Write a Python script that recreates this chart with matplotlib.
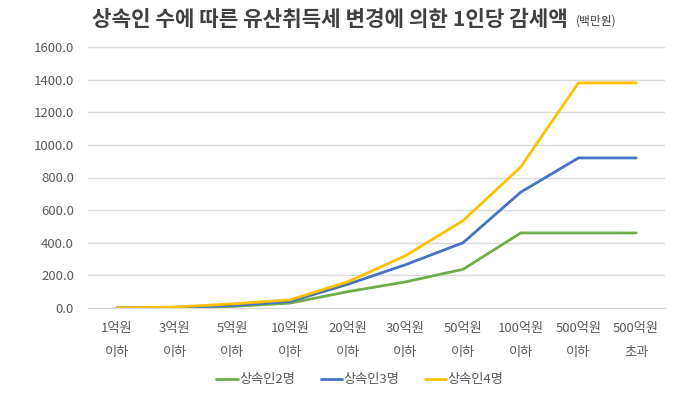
import matplotlib
matplotlib.use("Agg")
import matplotlib.pyplot as plt

plt.rcParams['font.family'] = ['Noto Sans CJK KR', 'DejaVu Sans']

categories = ["1억원\n이하", "3억원\n이하", "5억원\n이하", "10억원\n이하", "20억원\n이하",
              "30억원\n이하", "50억원\n이하", "100억원\n이하", "500억원\n이하", "500억원\n초과"]
heirs2 = [0, 3, 10, 30, 100, 160, 237, 460, 460, 460]
heirs3 = [0, 4, 15, 40, 145, 265, 400, 710, 920, 920]
heirs4 = [0, 6, 25, 50, 160, 320, 535, 865, 1380, 1380]
series_names = ["상속인2명", "상속인3명", "상속인4명"]
colors = ["#70AD47", "#4472C4", "#FFC000"]
yticks = [0, 200, 400, 600, 800, 1000, 1200, 1400, 1600]

fig = plt.figure(figsize=(6.8, 3.96), dpi=100)
ax = fig.add_axes([88/680, 1-308/396, (665-88)/680, (308-47)/396])

x = list(range(len(categories)))
for vals, name, c in zip([heirs2, heirs3, heirs4], series_names, colors):
    ax.plot(x, vals, color=c, lw=2.0, label=name, solid_capstyle='round')

ax.set_xlim(-0.5, len(categories) - 0.5)
ax.set_ylim(0, 1600)
ax.set_yticks(yticks)
ax.set_yticklabels([f"{v:.1f}" for v in yticks])
ax.set_xticks(x)
ax.set_xticklabels(categories, linespacing=2.15)
ax.grid(axis='y', color='#D9D9D9', lw=1)
ax.set_axisbelow(True)
for s in ['top', 'right', 'left']:
    ax.spines[s].set_visible(False)
ax.spines['bottom'].set_color('#D9D9D9')
ax.tick_params(axis='both', length=0, colors='#595959', labelsize=9.5)
ax.tick_params(axis='x', pad=10)
ax.tick_params(axis='y', pad=10)

fig.text(92/680, 1-19/396, "상속인 수에 따른 유산취득세 변경에 의한 1인당 감세액",
         fontsize=15.3, fontweight='bold', color='#404040', va='center', ha='left')
fig.text(576/680, 1-21/396, "(백만원)", fontsize=8.5, color='#404040', va='center', ha='left')

leg = fig.legend(loc='center', bbox_to_anchor=(360/680, 1-380/396), ncol=3, frameon=False,
                 fontsize=9.5, handlelength=1.6, handletextpad=0.15, columnspacing=1.9)
for t in leg.get_texts():
    t.set_color('#595959')

fig.savefig("out.png", dpi=100)
